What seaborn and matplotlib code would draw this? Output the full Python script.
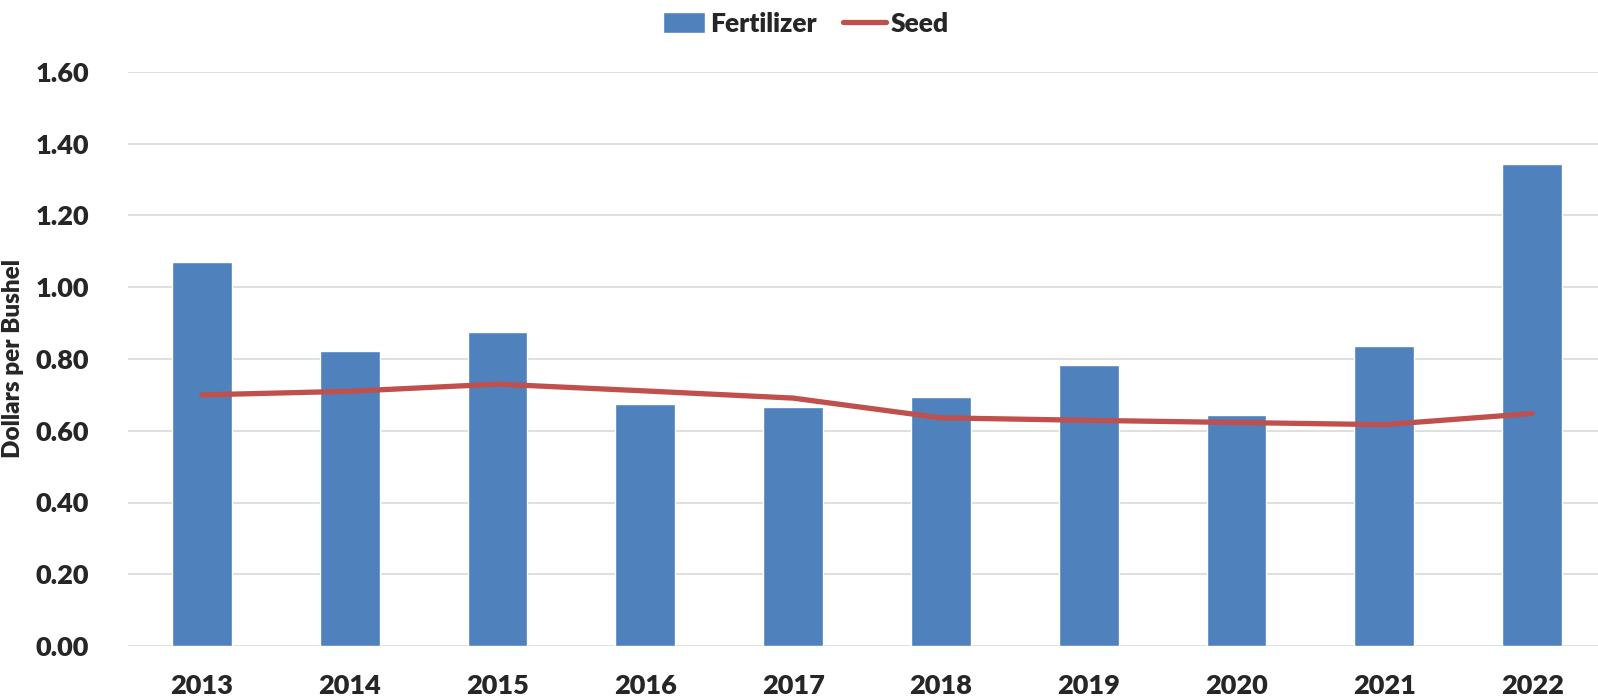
import numpy as np
import pandas as pd
import matplotlib
matplotlib.use("Agg")
import matplotlib.pyplot as plt
import seaborn as sns

# values
years = ["2013", "2014", "2015", "2016", "2017", "2018", "2019", "2020", "2021", "2022"]
fertilizer = [1.07, 0.823, 0.874, 0.675, 0.667, 0.695, 0.783, 0.643, 0.836, 1.344]
seed = [0.700, 0.710, 0.730, 0.711, 0.691, 0.636, 0.629, 0.623, 0.617, 0.648]

df = pd.DataFrame({"year": years, "Fertilizer": fertilizer, "Seed": seed})

sns.set_theme(style="white")
plt.rcParams["font.family"] = ["Lato", "DejaVu Sans"]
WEIGHT = "heavy"

W, H = 1598, 700
fig = plt.figure(figsize=(W / 100, H / 100), dpi=100)
ax_w = (1606 - 128) / W
ax = fig.add_axes([128 / W, 54 / H, ax_w, 574 / H])

bar_color = "#4F81BD"
line_color = "#C0504D"

sns.barplot(data=df, x="year", y="Fertilizer", color=bar_color, width=0.405,
            saturation=1, ax=ax, label="Fertilizer", zorder=2)
sns.lineplot(data=df, x="year", y="Seed", color=line_color, linewidth=3.8,
             ax=ax, label="Seed", zorder=3, solid_capstyle="round")

ax.set_xlim(-0.5, 9.5)
ax.set_ylim(0, 1.6)
ticks = np.arange(0, 1.61, 0.2)
ax.set_yticks(ticks)
ax.set_yticklabels([f"{v:.2f}" for v in ticks])
ax.yaxis.grid(True, color="#D9D9D9", linewidth=1.2, zorder=0)
ax.set_axisbelow(True)
for s in ax.spines.values():
    s.set_visible(False)
ax.tick_params(axis="both", length=0, labelsize=19.5)
ax.tick_params(axis="y", pad=28)
ax.tick_params(axis="x", pad=20)
for lbl in ax.get_xticklabels() + ax.get_yticklabels():
    lbl.set_fontweight(WEIGHT)

ax.set_xlabel("")
ax.set_ylabel("Dollars per Bushel", fontsize=17.5, fontweight=WEIGHT)
ax.yaxis.set_label_coords((24 - 128) / (ax_w * W), 0.5)

handles, labels = ax.get_legend_handles_labels()
order = [labels.index("Fertilizer"), labels.index("Seed")]
leg = ax.legend([handles[i] for i in order], [labels[i] for i in order],
                loc="upper center", bbox_to_anchor=(806 / W, 1.0), bbox_transform=fig.transFigure,
                ncol=2, frameon=False, fontsize=19, handlelength=1.6, handleheight=0.85,
                columnspacing=1.0, handletextpad=0.2, borderaxespad=0.05)
for t in leg.get_texts():
    t.set_fontweight(WEIGHT)

fig.savefig("out.png", dpi=100)
